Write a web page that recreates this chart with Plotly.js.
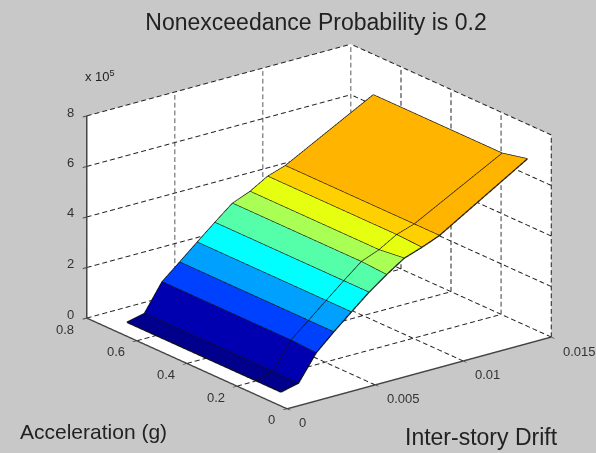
<!DOCTYPE html>
<html><head><meta charset="utf-8">
<script src="https://cdn.plot.ly/plotly-3.0.1.min.js"></script>
<style>html,body{margin:0;padding:0;background:#c8c8c8}#g{width:596px;height:453px}</style>
</head><body><div id="g"></div>
<script>
var drift=[0,0.001,0.002,0.003,0.004,0.005,0.006,0.007,0.008,0.009,0.014];
var accel=[0.025,0.125,0.64];
var zFront=[55000,71000,172000,236000,296000,355000,406000,452000,476000,504000,713000];
var zMid=[55000,71000,177000,236000,296000,355000,412000,440000,481000,504000,690000];
var zBack=[55000,71000,177000,236000,296000,355000,412000,440000,481000,504000,690000];
var bandColors=['#00008c','#0000b0','#0040ff','#00a0ff','#00ffff','#55ffaa','#aaff55','#e6ff10','#ffd000','#ffb400'];
var xTicks=[0,0.005,0.01,0.015];
var yTicks=[0,0.2,0.4,0.6,0.8];
var zTicks=[0,200000,400000,600000,800000];
var zLabels=['0','2','4','6','8'];
var rows=[zFront,zMid,zBack];

var X=[],Y=[],Z=[],I=[],J=[],K=[],FC=[];
accel.forEach(function(a,r){drift.forEach(function(d,c){X.push(d);Y.push(a);Z.push(rows[r][c]);});});
var nc=drift.length;
for(var r=0;r<accel.length-1;r++){for(var c=0;c<nc-1;c++){
  var p=r*nc+c,q=p+1,s=p+nc,t=s+1;
  I.push(p,p);J.push(q,t);K.push(t,s);FC.push(bandColors[c],bandColors[c]);
}}
var traces=[{type:'mesh3d',x:X,y:Y,z:Z,i:I,j:J,k:K,facecolor:FC,flatshading:true,
  lighting:{ambient:1,diffuse:0,specular:0,roughness:1,fresnel:0},showscale:false,hoverinfo:'skip'}];
function line(xs,ys,zs,dash,color,w){traces.push({type:'scatter3d',mode:'lines',x:xs,y:ys,z:zs,connectgaps:false,
  line:{color:color,width:w,dash:dash},hoverinfo:'skip',showlegend:false});}
accel.forEach(function(a,r){line(drift,drift.map(function(){return a;}),rows[r],'solid','#111',2.5);});
drift.forEach(function(d,c){line(accel.map(function(){return d;}),accel,rows.map(function(v){return v[c];}),'solid','#111',2.5);});
var x0=xTicks[0],x1=xTicks[xTicks.length-1],y0=yTicks[0],y1=yTicks[yTicks.length-1],z0=zTicks[0],z1=zTicks[zTicks.length-1];
// dashed grid line: n dashes between two axis positions
function dashed(a,b,n){
  var xs=[],ys=[],zs=[];
  for(var i=0;i<n;i++){[i/n,(i+0.62)/n].forEach(function(f){
      xs.push(a[0]+(b[0]-a[0])*f);ys.push(a[1]+(b[1]-a[1])*f);zs.push(a[2]+(b[2]-a[2])*f);});
    xs.push(NaN);ys.push(NaN);zs.push(NaN);}
  line(xs,ys,zs,'solid','#222',2);
}
var nX=34,nY=28,nZ=26;
xTicks.forEach(function(v){dashed([v,y0,z0],[v,y1,z0],nY);dashed([v,y1,z0],[v,y1,z1],nZ);});
yTicks.forEach(function(v){dashed([x0,v,z0],[x1,v,z0],nX);dashed([x1,v,z0],[x1,v,z1],nZ);});
zTicks.forEach(function(v){dashed([x0,y1,v],[x1,y1,v],nX);dashed([x1,y0,v],[x1,y1,v],nY);});

var tf={family:'Liberation Sans, Arial, sans-serif',size:13,color:'#333'};
function ax(range,vals){return {range:range,tickmode:'array',tickvals:vals,title:{text:''},
  showgrid:false,zeroline:false,showspikes:false,showbackground:true,backgroundcolor:'#ffffff',showticklabels:false,
  showline:true,linecolor:'#444',linewidth:3,ticks:'outside',ticklen:5,tickcolor:'#444',tickwidth:2};}
function tick(text,x,y,z,anchor,sx,sy){return {text:text,x:x,y:y,z:z,showarrow:false,xanchor:anchor,yanchor:'middle',xshift:sx,yshift:sy,font:tf};}
var sceneNotes=[];
xTicks.forEach(function(v){sceneNotes.push(tick(String(v),v,y0,z0,'left',10,-14));});
yTicks.forEach(function(v){sceneNotes.push(tick(String(v),x0,v,z0,'right',-10,-11));});
zTicks.forEach(function(v,i){sceneNotes.push(tick(zLabels[i],x0,y1,Math.min(v,z1*0.999),'right',-10,4));});
var lab={family:'Liberation Sans, Arial, sans-serif',color:'#222'};
function note(text,x,y,size){return {text:text,xref:'paper',yref:'paper',x:x/596,y:1-y/453,xanchor:'left',yanchor:'middle',
  showarrow:false,font:{family:lab.family,color:lab.color,size:size}};}
var layout={width:596,height:453,margin:{l:0,r:0,t:0,b:0},paper_bgcolor:'#c8c8c8',showlegend:false,
  title:{text:'Nonexceedance Probability is 0.2',x:316/596,xanchor:'center',y:1-22/453,yanchor:'middle',
    font:{family:lab.family,size:23,color:'#222'}},
  scene:{domain:{x:[0.07,1],y:[0,1]},
    aspectmode:'manual',aspectratio:{x:1.475,y:1.445,z:0.953},
    camera:{projection:{type:'orthographic'},eye:{x:-1.03,y:-1.33,z:0.63},up:{x:0,y:0,z:1},center:{x:0,y:0,z:0}},
    xaxis:ax([x0,x1],xTicks),
    yaxis:ax([y0,y1],yTicks),
    zaxis:ax([z0,z1],zTicks),
    annotations:sceneNotes},
  annotations:[note('Acceleration (g)',18,431,21),note('Inter-story Drift',403,437,23),
    note('x 10<sup>5</sup>',83,76,13)]};
Plotly.newPlot('g',traces,layout,{displayModeBar:false});
</script></body></html>
